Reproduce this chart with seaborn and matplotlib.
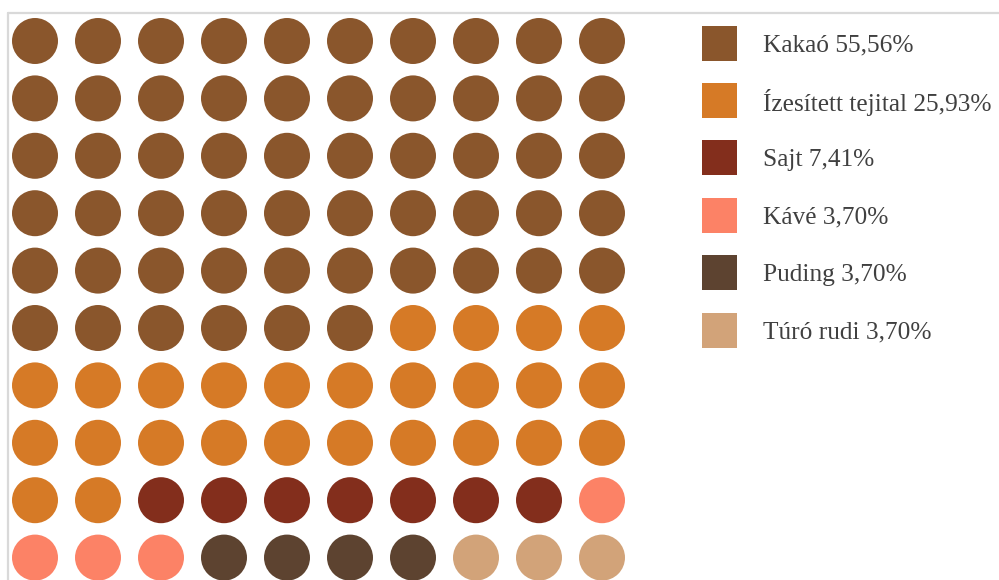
import numpy as np
import pandas as pd
import matplotlib
matplotlib.use("Agg")
import matplotlib.pyplot as plt
from matplotlib.patches import Rectangle
from matplotlib.lines import Line2D
import seaborn as sns

# Category shares (percent) and colours
categories = ["Kakaó", "Ízesített tejital", "Sajt", "Kávé", "Puding", "Túró rudi"]
percents = [55.56, 25.93, 7.41, 3.70, 3.70, 3.70]
colors = ["#8A562C", "#D67A26", "#832E1C", "#FC8266", "#5D4330", "#D2A379"]

n_rows, n_cols = 10, 10
total_cells = n_rows * n_cols

# Fill the grid row by row, each category taking round(pct) cells until the grid is full
cells = []
for cat, p in zip(categories, percents):
    cells.extend([cat] * int(round(p)))
cells = cells[:total_cells]

df = pd.DataFrame({
    "category": cells,
    "col": [i % n_cols for i in range(len(cells))],
    "row": [i // n_cols for i in range(len(cells))],
})

sns.set_theme(style="white")
plt.rcParams["font.family"] = ["Liberation Serif", "DejaVu Serif"]

W, H = 999, 580
fig = plt.figure(figsize=(W / 100, H / 100), dpi=100)

# Waffle axes: column pitch 63 px, row pitch 57.4 px
col_pitch, row_pitch = 63.0, 57.4
x0 = 35 - col_pitch / 2
y_top = 41 - row_pitch / 2
ax_w = col_pitch * n_cols
ax_h = row_pitch * n_rows
ax = fig.add_axes([x0 / W, 1 - (y_top + ax_h) / H, ax_w / W, ax_h / H])
ax.set_xlim(-0.5, n_cols - 0.5)
ax.set_ylim(n_rows - 0.5, -0.5)
ax.axis("off")

diam_pt = 46 * 72 / 100
sns.scatterplot(
    data=df, x="col", y="row", hue="category",
    hue_order=categories, palette=colors,
    s=diam_pt ** 2, linewidth=0, legend=False, ax=ax, clip_on=False,
)

# Light grey frame along the top and left
frame_color = "#D9D9D9"
fig.add_artist(Line2D([8 / W, 8 / W], [0, 1 - 13 / H], color=frame_color, lw=1.6,
                      transform=fig.transFigure))
fig.add_artist(Line2D([8 / W, 1], [1 - 13 / H, 1 - 13 / H], color=frame_color, lw=1.6,
                      transform=fig.transFigure))

# Legend: colour squares with labels
sq = 35
leg_x = 702
leg_y0 = 43
leg_step = 57.4
for i, (cat, p, c) in enumerate(zip(categories, percents, colors)):
    cy = leg_y0 + i * leg_step
    fig.add_artist(Rectangle(((leg_x) / W, 1 - (cy + sq / 2) / H), sq / W, sq / H,
                             facecolor=c, edgecolor="none", transform=fig.transFigure))
    label = f"{cat} {p:.2f}%".replace(".", ",")
    fig.text(763 / W, 1 - cy / H, label, fontsize=18.3, color="#404040",
             va="center_baseline", ha="left")

fig.savefig("out.png", dpi=100)
